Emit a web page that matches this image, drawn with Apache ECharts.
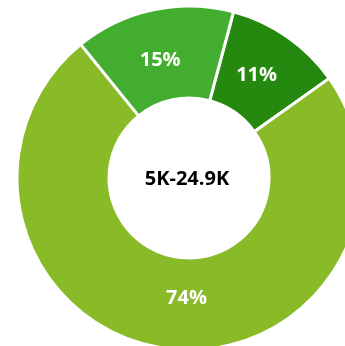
<!DOCTYPE html>
<html>
<head>
<meta charset="utf-8">
<script src="https://cdn.jsdelivr.net/npm/echarts@6/dist/echarts.min.js"></script>
<style>
  html, body { margin: 0; padding: 0; background: #fff; }
  #chart { width: 345px; height: 346px; }
</style>
</head>
<body>
<div id="chart"></div>
<script>
// Share of responses in the 5K-24.9K band
const centerTitle = '5K-24.9K';
const sliceNames = ['A', 'B', 'C'];
const sliceValues = [11, 74, 15];
const sliceColors = ['#26890f', '#88bb27', '#43ad30'];
// nudges for the in-ring percentage labels
const labelNudges = [[-6, 3], [15, -8], [-2, 8]];

const chart = echarts.init(document.getElementById('chart'), null, { renderer: 'canvas' });

chart.setOption({
  animation: false,
  graphic: [{
    type: 'text',
    x: 187,
    y: 179,
    style: {
      text: centerTitle,
      align: 'center',
      verticalAlign: 'middle',
      fontFamily: 'Open Sans',
      fontWeight: 'bold',
      fontSize: 20,
      fill: '#000'
    },
    z: 10
  }],
  series: [{
    type: 'pie',
    center: [189, 178],
    radius: [80, 172],
    startAngle: 75,
    clockwise: true,
    avoidLabelOverlap: false,
    itemStyle: { borderColor: '#fff', borderWidth: 3 },
    label: {
      position: 'inside',
      formatter: '{c}%',
      color: '#fff',
      fontFamily: 'Open Sans',
      fontWeight: 'bold',
      fontSize: 20
    },
    labelLine: { show: false },
    emphasis: { disabled: true },
    data: sliceNames.map((n, i) => ({
      name: n,
      value: sliceValues[i],
      itemStyle: { color: sliceColors[i] },
      label: { offset: labelNudges[i] }
    }))
  }]
});
</script>
</body>
</html>
